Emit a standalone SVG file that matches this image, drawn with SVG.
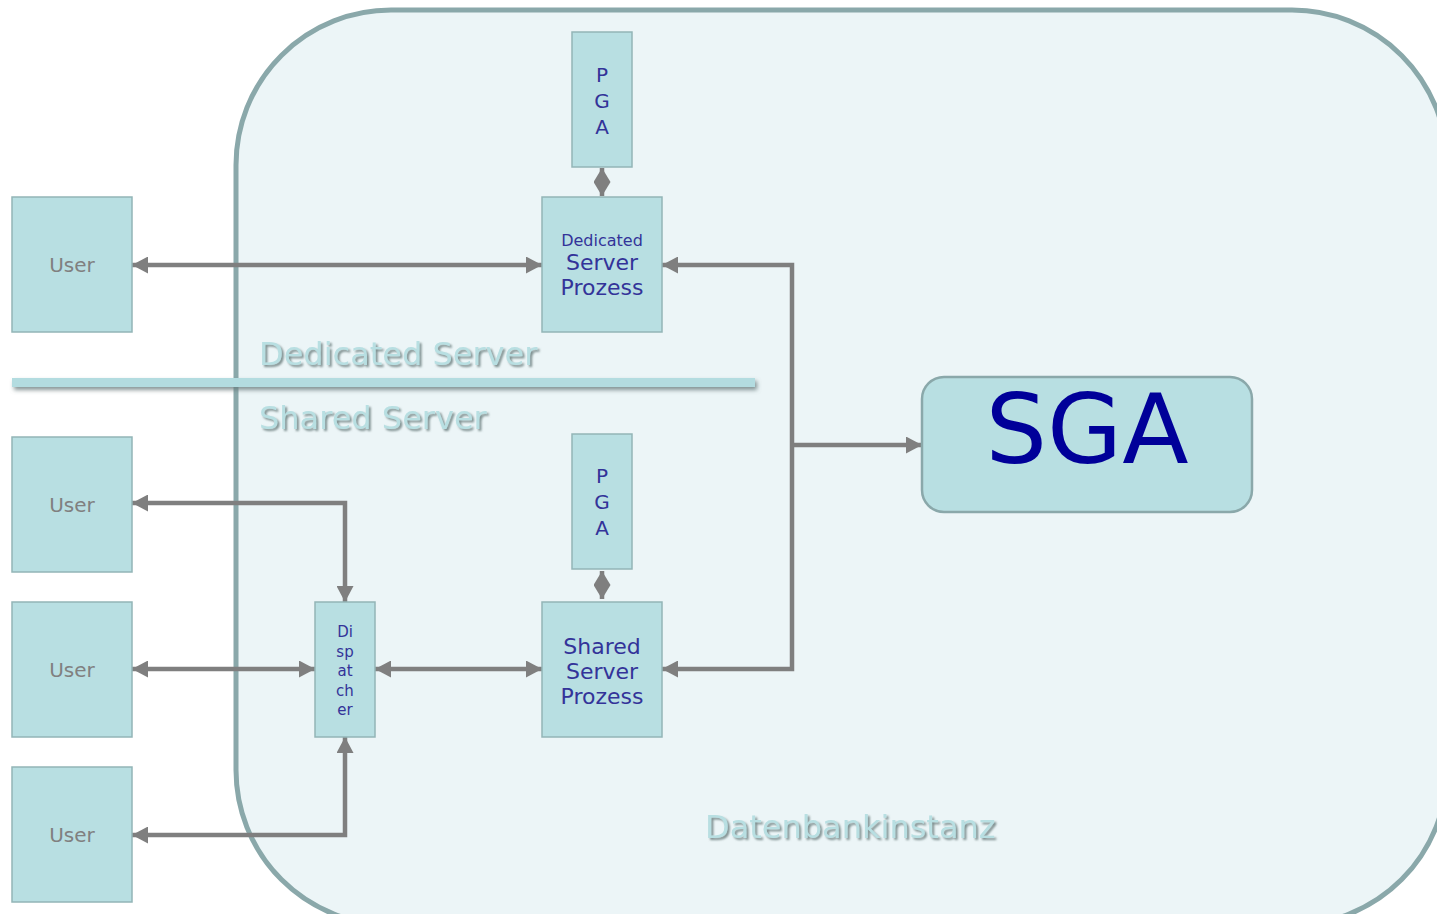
<svg xmlns="http://www.w3.org/2000/svg" width="1437" height="914" viewBox="0 0 1437 914">
<defs>
<marker id="ah" markerUnits="userSpaceOnUse" markerWidth="16" markerHeight="17" refX="16" refY="8.5" orient="auto-start-reverse" viewBox="0 0 16 17">
<path d="M0,0 L16,8.5 L0,17 z" fill="#7f7f7f"/>
</marker>
<marker id="ahs" markerUnits="userSpaceOnUse" markerWidth="14" markerHeight="17" refX="14" refY="8.5" orient="auto-start-reverse" viewBox="0 0 14 17">
<path d="M0,0 L14,8.5 L0,17 z" fill="#7f7f7f"/>
</marker>
<filter id="sh" filterUnits="userSpaceOnUse" x="0" y="0" width="1437" height="914">
<feDropShadow dx="2" dy="2" stdDeviation="1.3" flood-color="#687a7c" flood-opacity="0.85"/>
</filter>
<filter id="shb" filterUnits="userSpaceOnUse" x="0" y="0" width="1437" height="914">
<feDropShadow dx="2" dy="3" stdDeviation="2" flood-color="#687a7c" flood-opacity="0.8"/>
</filter>
</defs>
<style>
.box{fill:#b8dfe2;stroke:#93b5b7;stroke-width:1.5}
.t{font-family:"DejaVu Sans",Verdana,sans-serif;fill:#333399;text-anchor:middle}
.u{font-family:"DejaVu Sans",Verdana,sans-serif;fill:#808080;text-anchor:middle;font-size:20px}
.lbl{font-family:"DejaVu Sans",Verdana,sans-serif;fill:#b8dfe2;filter:url(#sh)}
.c{fill:none;stroke:#7f7f7f;stroke-width:4.5;marker-start:url(#ah);marker-end:url(#ah)}
.cs{fill:none;stroke:#7f7f7f;stroke-width:4.5;marker-start:url(#ahs);marker-end:url(#ahs)}
.c1{fill:none;stroke:#7f7f7f;stroke-width:4.5;marker-end:url(#ah)}
</style>
<rect width="1437" height="914" fill="#ffffff"/>
<g id="instance">
<rect x="236" y="10" width="1211" height="915" rx="155" ry="155" fill="#ecf5f7" stroke="#8aa8aa" stroke-width="5"/>
<text class="lbl" x="705" y="838" font-size="32">Datenbankinstanz</text>
</g>
<g id="separator">
<rect x="12" y="378" width="743" height="9" fill="#b3dce0" filter="url(#shb)"/>
<text class="lbl" x="259" y="365" font-size="32">Dedicated Server</text>
<text class="lbl" x="259" y="429" font-size="32">Shared Server</text>
</g>
<g id="connectors">
<path class="c" d="M132,265 H542"/>
<path class="cs" d="M602,168 V196"/>
<path class="cs" d="M602,571 V599"/>
<path class="c1" d="M792,445 V265 H662"/>
<path class="c1" d="M792,445 V669 H662"/>
<path class="c1" d="M792,445 H922"/>
<path class="c" d="M132,503 H345 V602"/>
<path class="c" d="M132,669 H315"/>
<path class="c" d="M375,669 H542"/>
<path class="c" d="M132,835 H345 V737"/>
</g>
<g id="pga1">
<rect class="box" x="572" y="32" width="60" height="135"/>
<text class="t" x="602" y="82" font-size="20">P</text>
<text class="t" x="602" y="108" font-size="20">G</text>
<text class="t" x="602" y="134" font-size="20">A</text>
</g>
<g id="dedicated">
<rect class="box" x="542" y="197" width="120" height="135"/>
<text class="t" x="602" y="246" font-size="16">Dedicated</text>
<text class="t" x="602" y="270" font-size="22">Server</text>
<text class="t" x="602" y="295" font-size="22">Prozess</text>
</g>
<g id="user1">
<rect class="box" x="12" y="197" width="120" height="135"/>
<text class="u" x="72" y="272">User</text>
</g>
<g id="user2">
<rect class="box" x="12" y="437" width="120" height="135"/>
<text class="u" x="72" y="512">User</text>
</g>
<g id="user3">
<rect class="box" x="12" y="602" width="120" height="135"/>
<text class="u" x="72" y="677">User</text>
</g>
<g id="user4">
<rect class="box" x="12" y="767" width="120" height="135"/>
<text class="u" x="72" y="842">User</text>
</g>
<g id="pga2">
<rect class="box" x="572" y="434" width="60" height="135"/>
<text class="t" x="602" y="483" font-size="20">P</text>
<text class="t" x="602" y="509" font-size="20">G</text>
<text class="t" x="602" y="535" font-size="20">A</text>
</g>
<g id="dispatcher">
<rect class="box" x="315" y="602" width="60" height="135"/>
<text class="t" x="345" y="637" font-size="15">Di</text>
<text class="t" x="345" y="657" font-size="15">sp</text>
<text class="t" x="345" y="676" font-size="15">at</text>
<text class="t" x="345" y="696" font-size="15">ch</text>
<text class="t" x="345" y="715" font-size="15">er</text>
</g>
<g id="shared">
<rect class="box" x="542" y="602" width="120" height="135"/>
<text class="t" x="602" y="654" font-size="22">Shared</text>
<text class="t" x="602" y="679" font-size="22">Server</text>
<text class="t" x="602" y="704" font-size="22">Prozess</text>
</g>
<g id="sga">
<rect x="922" y="377" width="330" height="135" rx="22" ry="22" fill="#b8dfe2" stroke="#8aa8aa" stroke-width="2.5"/>
<text x="1087" y="463" font-family="DejaVu Sans,Verdana,sans-serif" font-size="97" fill="#000099" text-anchor="middle">SGA</text>
</g>
</svg>
